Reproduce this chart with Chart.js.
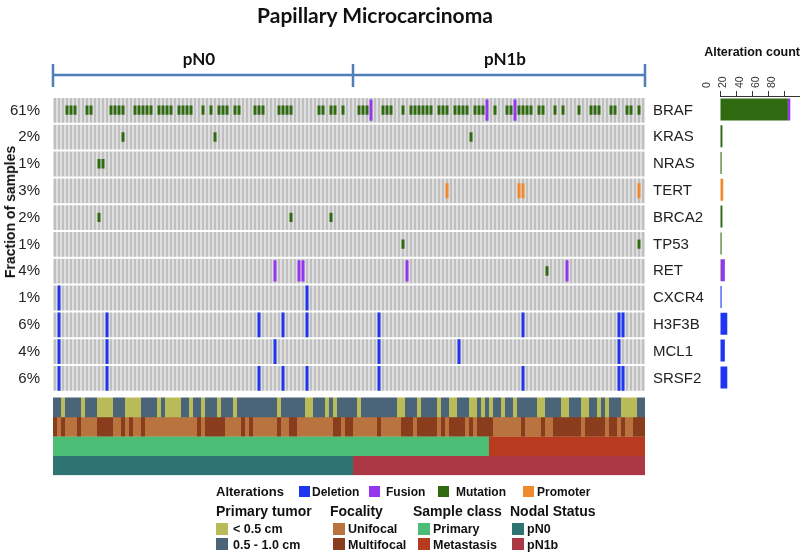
<!DOCTYPE html>
<html><head><meta charset="utf-8">
<script src="https://cdn.jsdelivr.net/npm/chart.js@4.4.1/dist/chart.umd.min.js"></script>
<style>
html,body{margin:0;padding:0;background:#fff;}
#wrap{position:relative;width:800px;height:555px;overflow:hidden;font-family:"Liberation Sans",Arial,sans-serif;color:#111;}
#main{position:absolute;left:0;top:0;}
#count{position:absolute;left:700px;top:0;}
.t{position:absolute;white-space:nowrap;line-height:1;}
.b{font-weight:bold;}
.sq{position:absolute;}
.hd{font-family:Lato,"Open Sans",sans-serif;font-weight:bold;color:#111;}
</style>
</head><body>
<div id="wrap">
<canvas id="main" width="800" height="555"></canvas>
<canvas id="count" width="100" height="400"></canvas>
<div class="t hd" style="left:375px;top:14px;font-size:21px;transform:translate(-50%,-50%);">Papillary Microcarcinoma</div>
<div class="t hd" style="left:199px;top:58px;font-size:17px;transform:translate(-50%,-50%);">pN0</div>
<div class="t hd" style="left:505px;top:58px;font-size:17px;transform:translate(-50%,-50%);">pN1b</div>
<div class="t b" style="left:10px;top:212px;font-size:14px;transform:translate(-50%,-50%) rotate(-90deg);">Fraction of samples</div>
<div class="t b" style="right:0px;top:46px;font-size:12.5px;">Alteration count</div>
<div id="legend"></div>
</div>
<script>
// ---------- data ----------
const genes = ['BRAF','KRAS','NRAS','TERT','BRCA2','TP53','RET','CXCR4','H3F3B','MCL1','SRSF2'];
const fractionLabels = ['61%','2%','1%','3%','2%','1%','4%','1%','6%','4%','6%'];
const sampleCount = 148;
const pN0Count = 75;        // samples 0..74 are pN0, rest pN1b
const primaryCount = 109;   // samples 0..108 primary, rest metastasis
const countTicks = [0,20,40,60,80];

const brafMutation = [3,4,5,8,9,14,15,16,17,20,21,22,23,24,26,27,28,29,31,32,33,34,37,39,41,42,43,45,46,
  50,51,52,56,57,58,59,66,67,69,70,72,76,77,78,82,83,84,87,89,90,91,92,93,94,96,
  97,98,100,101,102,103,105,106,107,110,113,114,116,117,118,119,121,122,125,127,131,134,135,136,139,140,143,144,146];
const brafFusion = [79,108,115];
const krasMutation = [17,40,104];
const nrasMutation = [11,12];
const tertPromoter = [98,116,117,146];
const brca2Mutation = [11,59,69];
const tp53Mutation = [87,146];
const retMutation = [123];
const retFusion = [55,61,62,88,128];
const cxcr4Deletion = [1,63];
const h3f3bDeletion = [1,13,51,57,63,81,117,141,142];
const mcl1Deletion = [1,13,55,81,101,141];
const srsf2Deletion = [1,13,51,57,63,81,117,141,142];

const smallTumor = [2,7,11,12,13,14,18,19,20,21,26,28,29,30,31,34,37,41,45,56,63,64,68,70,76,86,87,91,96,99,100,104,105,107,109,112,115,121,122,127,128,132,133,136,138,142,143,144,145];
const multifocal = [0,2,6,11,12,13,14,17,19,22,36,38,39,40,41,42,47,49,56,59,60,70,71,73,74,81,87,88,89,91,92,93,94,95,97,99,100,101,102,104,106,107,108,109,117,122,125,126,127,128,129,130,131,133,134,135,136,137,139,140,142,145,146,147];

const mutationCols = [brafMutation,krasMutation,nrasMutation,[],brca2Mutation,tp53Mutation,retMutation,[],[],[],[]];
const fusionCols   = [brafFusion,[],[],[],[],[],retFusion,[],[],[],[]];
const promoterCols = [[],[],[],tertPromoter,[],[],[],[],[],[],[]];
const deletionCols = [[],[],[],[],[],[],[],cxcr4Deletion,h3f3bDeletion,mcl1Deletion,srsf2Deletion];

// ---------- styles / layout ----------
const C = {
  gray:'#bfbfbf', mutation:'#2f6a10', fusion:'#9436ee', deletion:'#1f35f2', promoter:'#f08a2c',
  small:'#b8bb58', large:'#4a6479', uni:'#b9733e', multi:'#8a3d1c',
  primary:'#4cbd74', meta:'#b83b1f', pn0:'#2e7473', pn1b:'#ad3845', bracket:'#4f7fb8'
};
const ROW_PITCH = 26.8, CELL_H = 24.8, ANN_TOP = 299.5, ANN_H = 19.4, Y_MAX = 377.2;
const labels = Array.from({length: sampleCount}, (_, i) => 'S' + (i + 1));

function span(row, f0, f1){ const t = row * ROW_PITCH; return [t + f0 * CELL_H, t + f1 * CELL_H]; }
function cellData(cols, row, f0, f1){
  const d = new Array(sampleCount).fill(null);
  cols.forEach(c => { d[c] = span(row, f0, f1); });
  return d;
}
const datasets = [];
const barBase = {grouped:false, categoryPercentage:1, barPercentage:0.75, borderWidth:0, yAxisID:'y', inflateAmount:0};
// alterations (on top)
const altDefs = [
  {cols: deletionCols, color: C.deletion, f0: 0, f1: 1},
  {cols: promoterCols, color: C.promoter, f0: 0.2, f1: 0.8},
  {cols: fusionCols, color: C.fusion, f0: 0.06, f1: 0.92},
  {cols: mutationCols, color: C.mutation, f0: 0.3, f1: 0.68}
];
altDefs.forEach(def => {
  def.cols.forEach((cols, row) => {
    if (!cols.length) return;
    datasets.push(Object.assign({}, barBase, {data: cellData(cols, row, def.f0, def.f1), backgroundColor: def.color, order: 1}));
  });
});
// gray background cells
genes.forEach((g, row) => {
  datasets.push(Object.assign({}, barBase, {data: labels.map(() => span(row, 0, 1)), backgroundColor: C.gray, order: 5}));
});
// annotation tracks
const annColors = [
  labels.map((_, i) => smallTumor.includes(i) ? C.small : C.large),
  labels.map((_, i) => multifocal.includes(i) ? C.multi : C.uni),
  labels.map((_, i) => i < primaryCount ? C.primary : C.meta),
  labels.map((_, i) => i < pN0Count ? C.pn0 : C.pn1b)
];
annColors.forEach((colors, k) => {
  const top = ANN_TOP + k * ANN_H;
  datasets.push(Object.assign({}, barBase, {barPercentage: 1, data: labels.map(() => [top, top + ANN_H + 0.3]), backgroundColor: colors, order: 5}));
});

const bracketPlugin = {
  id: 'bracket',
  afterDraw(chart){
    const {ctx} = chart; const x = chart.scales.x;
    const half = (x.getPixelForValue(1) - x.getPixelForValue(0)) / 2;
    const left = x.getPixelForValue(0) - half, right = x.getPixelForValue(sampleCount - 1) + half;
    const mid = x.getPixelForValue(pN0Count - 1) + half;
    ctx.save(); ctx.strokeStyle = C.bracket; ctx.lineWidth = 2.5;
    ctx.beginPath(); ctx.moveTo(left, 75); ctx.lineTo(right, 75);
    [left, mid, right].forEach(px => { ctx.moveTo(px, 64); ctx.lineTo(px, 87); });
    ctx.stroke(); ctx.restore();
  }
};

const rowTicks = scale => { scale.ticks = genes.map((g, i) => ({value: i * ROW_PITCH + CELL_H / 2})); };
const tickFont = {family: '"Liberation Sans", Arial, sans-serif', size: 15};

new Chart(document.getElementById('main'), {
  type: 'bar',
  data: {labels, datasets},
  options: {
    responsive: false, animation: false, events: [],
    layout: {padding: {top: 98, bottom: 555 - 98 - Y_MAX, left: 0, right: 0}},
    plugins: {legend: {display: false}, tooltip: {enabled: false}},
    scales: {
      x: {type: 'category', display: false},
      y: {type: 'linear', position: 'left', min: 0, max: Y_MAX, reverse: true,
          afterFit: s => { s.width = 53; },
          afterBuildTicks: rowTicks,
          grid: {display: false, drawTicks: false}, border: {display: false},
          ticks: {autoSkip: false, padding: 13, color: '#222', font: tickFont,
                  callback: (v, i) => fractionLabels[i]}},
      y2: {type: 'linear', position: 'right', min: 0, max: Y_MAX, reverse: true,
          afterFit: s => { s.width = 155; },
          afterBuildTicks: rowTicks,
          grid: {display: false, drawTicks: false}, border: {display: false},
          ticks: {autoSkip: false, padding: 8, color: '#222', font: tickFont,
                  callback: (v, i) => genes[i]}}
    }
  },
  plugins: [bracketPlugin]
});

// ---------- alteration count chart ----------
const countOf = arr => arr.map(a => a.length || null);
new Chart(document.getElementById('count'), {
  type: 'bar',
  data: {
    labels: genes,
    datasets: [
      {data: countOf(mutationCols), backgroundColor: C.mutation},
      {data: countOf(fusionCols), backgroundColor: C.fusion},
      {data: countOf(promoterCols), backgroundColor: C.promoter},
      {data: countOf(deletionCols), backgroundColor: C.deletion}
    ].map(d => Object.assign(d, {barPercentage: 0.82, categoryPercentage: 1, borderWidth: 0}))
  },
  options: {
    indexAxis: 'y', responsive: false, animation: false, events: [],
    layout: {padding: {left: 20, right: 0, top: 0, bottom: 400 - 96 - 11 * ROW_PITCH}},
    plugins: {legend: {display: false}, tooltip: {enabled: false}},
    scales: {
      x: {position: 'top', stacked: true, min: 0, max: 99,
          afterFit: s => { s.height = 96; },
          afterBuildTicks: s => { s.ticks = countTicks.map(v => ({value: v})); },
          grid: {drawOnChartArea: false, tickLength: 5, color: '#333', lineWidth: 1},
          border: {color: '#333'},
          ticks: {minRotation: 90, maxRotation: 90, padding: 3, color: '#333',
                  font: {family: '"Liberation Sans", Arial, sans-serif', size: 10.5}}},
      y: {stacked: true, display: false}
    }
  }
});

// ---------- legend (HTML text) ----------
const legendItems = [
  {t:'Alterations', x:216, base:496, size:13},
  {sq:C.deletion, x:299, y:486, w:11, h:11}, {t:'Deletion', x:312, base:496, size:12},
  {sq:C.fusion, x:369, y:486, w:11, h:11}, {t:'Fusion', x:386, base:496, size:12},
  {sq:C.mutation, x:438, y:486, w:11, h:11}, {t:'Mutation', x:456, base:496, size:12},
  {sq:C.promoter, x:523, y:486, w:11, h:11}, {t:'Promoter', x:537, base:496, size:12},
  {t:'Primary tumor', x:216, base:516, size:14}, {t:'Focality', x:330, base:516, size:14},
  {t:'Sample class', x:413, base:516, size:14}, {t:'Nodal Status', x:510, base:516, size:14},
  {sq:C.small, x:216, y:523, w:12, h:12}, {t:'< 0.5 cm', x:233, base:534, size:12.5},
  {sq:C.large, x:216, y:538, w:12, h:12}, {t:'0.5 - 1.0 cm', x:233, base:550, size:12.5},
  {sq:C.uni, x:333, y:523, w:12, h:12}, {t:'Unifocal', x:348, base:534, size:12.5},
  {sq:C.multi, x:333, y:538, w:12, h:12}, {t:'Multifocal', x:348, base:550, size:12.5},
  {sq:C.primary, x:418, y:523, w:12, h:12}, {t:'Primary', x:433, base:534, size:12.5},
  {sq:C.meta, x:418, y:538, w:12, h:12}, {t:'Metastasis', x:433, base:550, size:12.5},
  {sq:C.pn0, x:512, y:523, w:12, h:12}, {t:'pN0', x:527, base:534, size:12.5},
  {sq:C.pn1b, x:512, y:538, w:12, h:12}, {t:'pN1b', x:527, base:550, size:12.5}
];
const lg = document.getElementById('legend');
legendItems.forEach(it => {
  const el = document.createElement('div');
  if (it.sq) {
    el.className = 'sq';
    Object.assign(el.style, {left: it.x + 'px', top: it.y + 'px', width: it.w + 'px', height: it.h + 'px', background: it.sq});
  } else {
    el.className = 't b';
    el.textContent = it.t;
    Object.assign(el.style, {left: it.x + 'px', top: (it.base - 0.846 * it.size) + 'px', fontSize: it.size + 'px'});
  }
  lg.appendChild(el);
});
</script>
</body></html>
